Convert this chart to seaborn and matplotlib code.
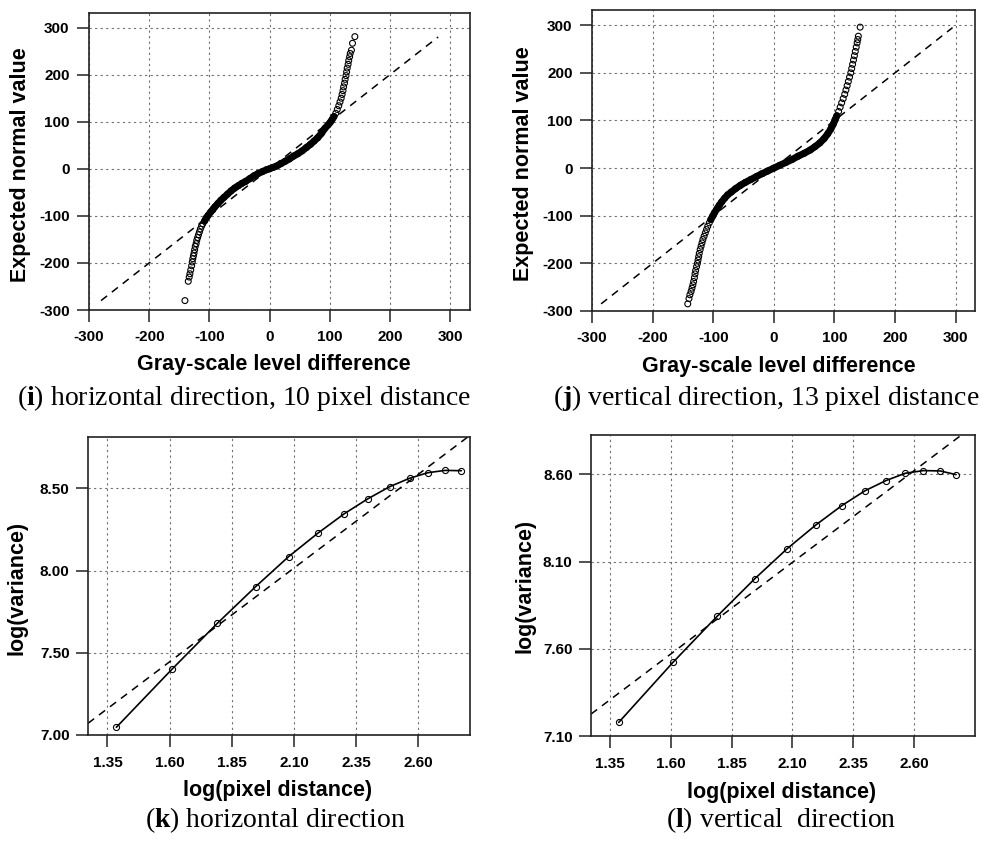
import matplotlib
matplotlib.use("Agg")
import matplotlib.pyplot as plt
import numpy as np
import pandas as pd
import seaborn as sns


# (i) horizontal direction, 10 pixel distance
qq_i_x = [-140.6, -135.1, -133.5, -132.3, -131.0, -129.5, -128.5, -127.5, -126.5, -125.5,
          -124.5, -123.5, -122.0, -121.0, -119.5, -118.0, -116.5, -115.0, -113.0, -111.0,
          -108.0, -105.0, -102.0, -98.0, -94.0, -91.0, -86.0, -81.0, -76.0, -70.0,
          -64.0, -58.0, -52.0, -46.0, -40.0, -33.0, -26.0, -19.0, -12.0, -5.0,
          0.0, 6.0, 12.0, 19.0, 26.0, 33.0, 40.0, 47.0, 54.0, 61.0,
          68.0, 74.0, 80.0, 86.0, 92.0, 97.0, 101.0, 104.0, 107.0, 110.0,
          112.5, 115.0, 117.0, 119.0, 120.5, 122.0, 123.0, 124.5, 125.5, 127.0,
          128.0, 129.0, 130.5, 131.5, 133.0, 134.0, 136.0, 137.8, 141.7]
qq_i_y = [-280.0, -239.0, -230.0, -223.0, -215.0, -206.0, -198.0, -191.0, -185.0, -179.0,
          -172.0, -165.0, -159.0, -152.0, -146.0, -140.0, -134.0, -128.0, -122.0, -117.0,
          -111.0, -104.0, -99.0, -92.0, -86.0, -81.0, -74.0, -67.0, -61.0, -54.0,
          -47.0, -41.0, -36.0, -31.0, -27.0, -21.0, -15.0, -10.0, -6.0, -2.0,
          0.0, 3.0, 6.0, 11.0, 16.0, 21.0, 27.0, 32.0, 38.0, 45.0,
          52.0, 59.0, 66.0, 75.0, 86.0, 93.0, 99.0, 105.0, 111.0, 118.0,
          126.0, 134.0, 142.0, 150.0, 158.0, 166.0, 174.0, 182.0, 190.0, 198.0,
          206.0, 214.0, 222.0, 230.0, 238.0, 245.0, 252.0, 266.7, 280.8]
ref_i = [-280, 280]

# (j) vertical direction, 13 pixel distance
qq_j_x = [-142.0, -140.0, -138.5, -136.5, -135.0, -133.5, -132.3, -131.0, -130.0, -129.0,
          -127.5, -126.0, -125.0, -124.0, -123.0, -121.5, -120.0, -118.5, -117.0, -115.0,
          -113.0, -111.0, -109.0, -106.5, -104.0, -101.0, -98.0, -94.0, -90.0, -86.0,
          -81.0, -76.0, -70.0, -63.0, -55.0, -47.0, -38.0, -29.0, -20.0, -10.0,
          0.0, 10.0, 20.0, 30.0, 40.0, 50.0, 60.0, 68.0, 76.0, 83.0,
          89.0, 94.0, 98.0, 101.0, 104.0, 107.0, 109.5, 112.0, 114.5, 117.0,
          119.0, 121.0, 123.0, 125.0, 127.0, 128.5, 130.0, 131.5, 133.0, 134.5,
          136.0, 137.5, 138.5, 139.5, 142.5]
qq_j_y = [-285.0, -274.0, -266.0, -259.0, -252.0, -245.0, -238.0, -230.0, -222.0, -215.0,
          -207.0, -200.0, -193.0, -186.0, -179.0, -171.0, -164.0, -157.0, -150.0, -143.0,
          -136.0, -129.0, -122.0, -115.0, -108.0, -101.0, -94.0, -86.0, -78.0, -71.0,
          -63.0, -56.0, -50.0, -43.0, -36.0, -30.0, -24.0, -18.0, -12.0, -6.0,
          0.0, 6.0, 12.0, 18.0, 25.0, 31.0, 38.0, 45.0, 53.0, 62.0,
          72.0, 82.0, 92.0, 101.0, 110.0, 119.0, 128.0, 137.0, 146.0, 155.0,
          164.0, 173.0, 182.0, 191.0, 200.0, 209.0, 218.0, 227.0, 236.0, 245.0,
          254.0, 263.0, 270.0, 277.0, 296.0]
ref_j = [-285, 295]

# (k) / (l) log(variance) against log(pixel distance)
log_dist = [1.386, 1.609, 1.792, 1.946, 2.079, 2.197, 2.303, 2.398, 2.485, 2.565, 2.639, 2.708, 2.773]
logvar_k = [7.047, 7.399, 7.679, 7.902, 8.085, 8.228, 8.346, 8.437, 8.510, 8.561, 8.595, 8.609, 8.607]
logvar_l = [7.178, 7.522, 7.788, 8.002, 8.174, 8.310, 8.420, 8.505, 8.564, 8.606, 8.621, 8.619, 8.598]
fit_k = [5.621, 1.140]   # intercept, slope
fit_l = [5.890, 1.050]

qq_ticks = [-300, -200, -100, 0, 100, 200, 300]
dist_ticks = [1.35, 1.60, 1.85, 2.10, 2.35, 2.60]
var_ticks_k = [7.00, 7.50, 8.00, 8.50]
var_ticks_l = [7.10, 7.60, 8.10, 8.60]


sns.set_theme(style="white")
plt.rcParams["font.family"] = ["Liberation Sans", "DejaVu Sans"]
plt.rcParams["axes.unicode_minus"] = False
plt.rcParams["text.color"] = "black"
plt.rcParams["axes.labelcolor"] = "black"
plt.rcParams["xtick.color"] = "black"
plt.rcParams["ytick.color"] = "black"
plt.rcParams["mathtext.fontset"] = "custom"
plt.rcParams["mathtext.rm"] = "Liberation Serif"
plt.rcParams["mathtext.bf"] = "Liberation Serif:bold"

W, H = 982, 842
fig = plt.figure(figsize=(W / 100, H / 100), dpi=100)


def box(l, t, r, b):
    return [l / W, 1 - b / H, (r - l) / W, (b - t) / H]


def style(ax, xticks, yticks, xlim, ylim, fmt, xlabel, ylabel, xl, yl, ypad, xpad):
    ax.set_xlim(xlim)
    ax.set_ylim(ylim)
    ax.set_xticks(xticks)
    ax.set_yticks(yticks)
    ax.set_xticklabels([fmt.format(t) for t in xticks])
    ax.set_yticklabels([fmt.format(t) for t in yticks])
    ax.grid(True, color="#707070", linestyle=(0, (2, 3)), linewidth=0.8)
    ax.set_axisbelow(True)
    for s in ax.spines.values():
        s.set_visible(True)
        s.set_color("#222222")
        s.set_linewidth(1.2)
    ax.tick_params(axis="both", direction="out", length=8.5, width=1.1, color="#222222",
                   labelsize=11, labelcolor="black", bottom=True, left=True)
    ax.tick_params(axis="y", pad=ypad)
    ax.tick_params(axis="x", pad=xpad)
    for lab in ax.get_xticklabels() + ax.get_yticklabels():
        lab.set_fontweight("bold")
    ax.set_xlabel(xlabel, fontsize=15.5, fontweight="bold", va="center", color="black")
    ax.set_ylabel(ylabel, fontsize=15.5, fontweight="bold", va="center", color="black")
    ax.xaxis.set_label_coords(*xl)
    ax.yaxis.set_label_coords(*yl)


def qq_panel(ax, xs, ys, ref, core):
    df = pd.DataFrame({"x": xs, "y": ys})
    sns.lineplot(x=ref, y=ref, ax=ax, color="black", linewidth=1.1,
                 linestyle=(0, (5, 4)), estimator=None)
    mid = df[df["y"].abs() <= core]
    sns.lineplot(data=mid, x="x", y="y", ax=ax, sort=False, estimator=None,
                 color="black", linewidth=5.0, solid_capstyle="round")
    sns.scatterplot(data=df, x="x", y="y", ax=ax, marker="o", s=18,
                    facecolor="none", edgecolor="black", linewidth=0.8)


def var_panel(ax, xs, ys, fit):
    ax.axline((0, fit[0]), slope=fit[1], color="black", linewidth=1.1,
              linestyle=(0, (5, 4)))
    sns.lineplot(x=xs, y=ys, ax=ax, color="black", linewidth=1.2, estimator=None,
                 marker="o", markersize=4.4, markerfacecolor="none",
                 markeredgecolor="black", markeredgewidth=0.8)


ax_i = fig.add_axes(box(89, 13, 470, 310))
qq_panel(ax_i, qq_i_x, qq_i_y, ref_i, 115)
style(ax_i, qq_ticks, qq_ticks, (-300, 333), (-300, 331), "{:d}",
      "Gray-scale level difference", "Expected normal value",
      (0.486, -0.185), (-0.181, 0.488), 5.5, 6)

ax_j = fig.add_axes(box(592, 10, 975, 311))
qq_panel(ax_j, qq_j_x, qq_j_y, ref_j, 110)
style(ax_j, qq_ticks, qq_ticks, (-300, 332), (-300, 332), "{:d}",
      "Gray-scale level difference", "Expected normal value",
      (0.488, -0.186), (-0.180, 0.49), 5.5, 6)

ax_k = fig.add_axes(box(88, 437, 470, 735))
var_panel(ax_k, log_dist, logvar_k, fit_k)
style(ax_k, dist_ticks, var_ticks_k, (1.272, 2.808), (7.00, 8.812), "{:.2f}",
      "log(pixel distance)", "log(variance)",
      (0.495, -0.185), (-0.186, 0.495), 4.7, 6.7)

ax_l = fig.add_axes(box(591, 435, 975, 736))
var_panel(ax_l, log_dist, logvar_l, fit_l)
style(ax_l, dist_ticks, var_ticks_l, (1.272, 2.851), (7.10, 8.825), "{:.2f}",
      "log(pixel distance)", "log(variance)",
      (0.497, -0.189), (-0.172, 0.50), 4.7, 6.7)

captions = [
    (244, 398, r"($\mathbf{i}$) horizontal direction, 10 pixel distance"),
    (766, 398, r"($\mathbf{j}$) vertical direction, 13 pixel distance"),
    (275, 820, r"($\mathbf{k}$) horizontal direction"),
    (781, 820, r"($\mathbf{l}$) vertical  direction"),
]
for cx, cy, txt in captions:
    fig.text(cx / W, 1 - cy / H, txt, ha="center", va="center",
             fontsize=20, family="Liberation Serif", color="black")

fig.savefig("out.png", dpi=100)
